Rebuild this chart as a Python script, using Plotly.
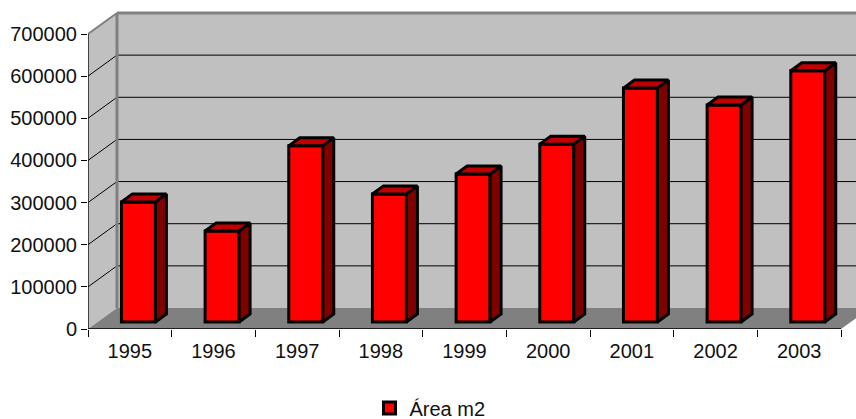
import plotly.graph_objects as go

years = [1995, 1996, 1997, 1998, 1999, 2000, 2001, 2002, 2003]
area_m2 = [285000, 216000, 418000, 304000, 351000, 422000, 555000, 515000, 596000]
y_ticks = [0, 100000, 200000, 300000, 400000, 500000, 600000, 700000]
series_name = "Área m2"

# Projection of the pseudo-3D box, in axis units
W, H = 856, 419
LEFT, BASE = 87.5, 329
PX_X = (841 - 87.5) / 9          # pixels per category
PX_Y = (329 - 34) / 700000       # pixels per unit of value
X0, X1 = years[0] - 0.5, years[-1] + 0.5
DEPTH_X = 29 / PX_X
DEPTH_Y = 21 / PX_Y
BAR_W = 34 / PX_X
BAR_DX, BAR_DY = 8.6 / PX_X, 7 / PX_Y
SIDE_X, SIDE_Y = 11 / PX_X, 8 / PX_Y
YMAX = 700000


def poly(pts):
    return "M" + " L".join(f"{x},{y}" for x, y in pts) + " Z"


WALL, FLOOR, EDGE = "#c0c0c0", "#808080", "#808080"
shapes = [
    dict(type="path", path=poly([(X0 + DEPTH_X, DEPTH_Y), (X1 + DEPTH_X, DEPTH_Y), (X1 + DEPTH_X, YMAX + DEPTH_Y), (X0 + DEPTH_X, YMAX + DEPTH_Y)]),
         fillcolor=WALL, line_width=0, layer="below"),
    dict(type="path", path=poly([(X0, 0), (X0 + DEPTH_X, DEPTH_Y), (X0 + DEPTH_X, YMAX + DEPTH_Y), (X0, YMAX)]),
         fillcolor=WALL, line_width=0, layer="below"),
    dict(type="path", path=poly([(X0, 0), (X1, 0), (X1 + DEPTH_X, DEPTH_Y), (X0 + DEPTH_X, DEPTH_Y)]),
         fillcolor=FLOOR, line_width=0, layer="below"),
]
for t in y_ticks[1:-1]:
    shapes.append(dict(type="line", x0=X0, y0=t, x1=X0 + DEPTH_X, y1=t + DEPTH_Y, line=dict(color="#000000", width=1), layer="below"))
    shapes.append(dict(type="line", x0=X0 + DEPTH_X, y0=t + DEPTH_Y, x1=X1 + DEPTH_X, y1=t + DEPTH_Y, line=dict(color="#000000", width=1), layer="below"))
shapes += [
    dict(type="line", x0=X0 + DEPTH_X, y0=DEPTH_Y, x1=X0 + DEPTH_X, y1=YMAX + DEPTH_Y, line=dict(color=EDGE, width=3), layer="below"),
    dict(type="line", x0=X0 + DEPTH_X, y0=YMAX + DEPTH_Y, x1=X1 + DEPTH_X, y1=YMAX + DEPTH_Y, line=dict(color=EDGE, width=3), layer="below"),
    dict(type="line", x0=X0, y0=YMAX, x1=X0 + DEPTH_X, y1=YMAX + DEPTH_Y, line=dict(color=EDGE, width=2), layer="below"),
]

fig = go.Figure()
fig.add_trace(go.Bar(
    x=[y + BAR_DX for y in years], y=area_m2, base=BAR_DY, width=BAR_W, name=series_name,
    marker=dict(color="#ff0000", line=dict(color="#000000", width=3)), showlegend=True,
))

side_x, side_y, top_x, top_y = [], [], [], []
for yr, v in zip(years, area_m2):
    l = yr + BAR_DX - BAR_W / 2
    r = yr + BAR_DX + BAR_W / 2
    b = BAR_DY
    t = BAR_DY + v
    side_x += [r, r + SIDE_X, r + SIDE_X, r, r, None]
    side_y += [b, b + SIDE_Y, t + SIDE_Y, t, b, None]
    top_x += [l, l + SIDE_X, r + SIDE_X, r, l, None]
    top_y += [t, t + SIDE_Y, t + SIDE_Y, t, t, None]

fig.add_trace(go.Scatter(x=side_x, y=side_y, mode="lines", fill="toself", fillcolor="#800000",
                         line=dict(color="#000000", width=3), showlegend=False, hoverinfo="skip"))
fig.add_trace(go.Scatter(x=top_x, y=top_y, mode="lines", fill="toself", fillcolor="#c00000",
                         line=dict(color="#000000", width=3), showlegend=False, hoverinfo="skip"))
# Axis lines that stop at the front plane of the box
fig.add_trace(go.Scatter(x=[X0, X0, X1], y=[YMAX, 0, 0], mode="lines", cliponaxis=False,
                         line=dict(color="#000000", width=1.3), showlegend=False, hoverinfo="skip"))

FONT = dict(family="Liberation Sans, Arial, sans-serif", size=20, color="#111111")
fig.update_layout(
    width=W, height=H, autosize=False,
    margin=dict(l=LEFT, r=0, t=0, b=H - BASE, pad=0),
    paper_bgcolor="#ffffff", plot_bgcolor="#ffffff",
    font=FONT, shapes=shapes, barmode="overlay",
    xaxis=dict(range=[X0, X0 + (W - LEFT) / PX_X], tickmode="array", tickvals=years,
               ticktext=[str(y) for y in years], ticks="outside", ticklen=4, tickcolor="rgba(0,0,0,0)",
               showgrid=False, zeroline=False, showline=False, tickfont=FONT, automargin=False,
               minor=dict(tickmode="array", tickvals=[y - 0.5 for y in years] + [X1], ticks="outside",
                          ticklen=7, tickcolor="#000000", tickwidth=1, showgrid=False)),
    yaxis=dict(range=[0, BASE / PX_Y], tickmode="array", tickvals=y_ticks,
               ticktext=[str(t) for t in y_ticks], ticks="outside", ticklen=6, tickcolor="#000000", tickwidth=1,
               showgrid=False, zeroline=False, showline=False, tickfont=FONT, automargin=False),
    legend=dict(xref="container", yref="container", x=430 / W, y=1 - 408 / H, xanchor="center", yanchor="middle",
                orientation="h", font=FONT, bgcolor="rgba(0,0,0,0)", itemwidth=30),
)
fig.write_html("out.html", config=dict(displayModeBar=False),
               post_script="document.body.style.margin='0';document.documentElement.style.overflow='hidden';")
